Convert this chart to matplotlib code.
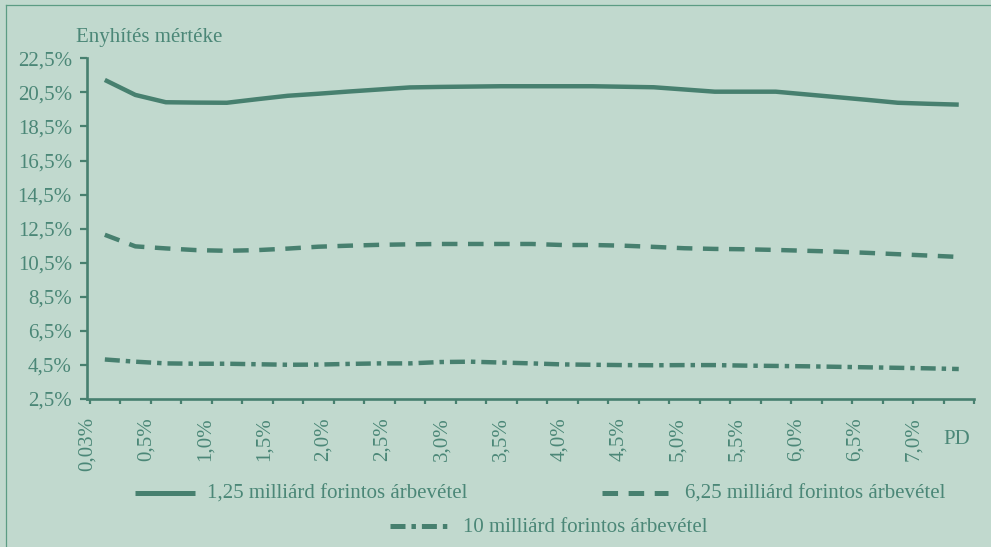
import numpy as np
import matplotlib
matplotlib.use("Agg")
import matplotlib.pyplot as plt
from matplotlib.lines import Line2D

# PD axis labels (shown every second category)
pd_labels = ["0,03%", "0,5%", "1,0%", "1,5%", "2,0%", "2,5%", "3,0%", "3,5%",
             "4,0%", "4,5%", "5,0%", "5,5%", "6,0%", "6,5%", "7,0%"]

# Relief level (%) for each PD category, by annual revenue
rev_125 = [21.23, 20.35, 19.92, 19.90, 19.89, 20.10, 20.30, 20.42, 20.55, 20.67,
           20.79, 20.82, 20.84, 20.86, 20.86, 20.86, 20.86, 20.83, 20.80, 20.67,
           20.54, 20.54, 20.54, 20.38, 20.22, 20.06, 19.89, 19.83, 19.78]
rev_625 = [12.14, 11.46, 11.34, 11.24, 11.20, 11.24, 11.33, 11.44, 11.50, 11.55,
           11.58, 11.60, 11.60, 11.60, 11.60, 11.54, 11.54, 11.50, 11.43, 11.35,
           11.31, 11.29, 11.25, 11.20, 11.15, 11.08, 11.00, 10.92, 10.84]
rev_10 = [4.82, 4.69, 4.59, 4.57, 4.57, 4.54, 4.51, 4.52, 4.56, 4.59,
          4.59, 4.67, 4.69, 4.64, 4.59, 4.53, 4.51, 4.49, 4.48, 4.49,
          4.49, 4.46, 4.44, 4.42, 4.39, 4.36, 4.33, 4.30, 4.26]

series_names = ["1,25 milliárd forintos árbevétel",
                "6,25 milliárd forintos árbevétel",
                "10 milliárd forintos árbevétel"]

y_ticks = [2.5, 4.5, 6.5, 8.5, 10.5, 12.5, 14.5, 16.5, 18.5, 20.5, 22.5]

BG = "#c1d9ce"
LINE = "#47806f"
TEXT = "#4b8777"
FRAME = "#5c9c84"

plt.rcParams["font.family"] = ["Liberation Serif", "DejaVu Serif"]
plt.rcParams["lines.scale_dashes"] = False
FS = 15

W, H = 991, 547
fig = plt.figure(figsize=(W / 100, H / 100), dpi=100, facecolor=BG)


def fx(px):
    return px / W


def fy(py):
    return 1 - py / H


ax = fig.add_axes([fx(87.3), fy(399), fx(974) - fx(87.3), fy(58.3) - fy(399)])
ax.set_facecolor(BG)

n = len(rev_125)
x = np.arange(n)
styles = [
    dict(linestyle="-"),
    dict(linestyle=(0, (11.2, 7.6))),
    dict(linestyle=(0, (10.8, 4.3, 3.2, 4.3))),
]
for vals, st in zip([rev_125, rev_625, rev_10], styles):
    ax.plot(x, vals, color=LINE, lw=3.2, solid_capstyle="butt",
            dash_capstyle="butt", **st)

ax.set_xlim(-0.5, n - 0.5)
ax.set_ylim(y_ticks[0], y_ticks[-1])

for s in ["top", "right"]:
    ax.spines[s].set_visible(False)
for s in ["left", "bottom"]:
    ax.spines[s].set_color(LINE)
    ax.spines[s].set_linewidth(1.9)

ax.set_yticks(y_ticks)
ax.set_yticklabels([f"{v:.1f}%".replace(".", ",") for v in y_ticks])
ax.tick_params(axis="y", direction="out", length=4.8, width=1.6, color=LINE,
               labelcolor=TEXT, labelsize=FS, pad=6.3)

# category boundaries carry the tick marks; labels sit on minor ticks
ax.set_xticks(np.arange(-0.5, n))
ax.set_xticklabels([])
ax.tick_params(axis="x", which="major", direction="out", length=3.6,
               width=1.6, color=LINE)
label_pos = np.linspace(-0.575, 26.53, len(pd_labels))
ax.set_xticks(label_pos, minor=True)
ax.set_xticklabels(pd_labels, minor=True, rotation=90, va="top", ha="center")
ax.tick_params(axis="x", which="minor", length=0, pad=13.2,
               labelcolor=TEXT, labelsize=FS)

fig.text(fx(76), fy(41.7), "Enyhítés mértéke", color=TEXT, fontsize=FS,
         ha="left", va="baseline")
fig.text(fx(943), fy(444), "PD", color=TEXT, fontsize=FS,
         ha="left", va="baseline")

# legend
legend_items = [
    (135, 195, 492.7, 207, 498.5),
    (601.7, 668.3, 492.7, 685, 498.5),
    (390, 446.7, 526, 462.7, 532.5),
]
for (x0, x1, ly, tx, tb), st, name in zip(legend_items, styles, series_names):
    fig.add_artist(Line2D([fx(x0), fx(x1)], [fy(ly), fy(ly)],
                          transform=fig.transFigure, color=LINE, lw=3.6,
                          solid_capstyle="butt", dash_capstyle="butt", **st))
    fig.text(fx(tx), fy(tb), name, color=TEXT, fontsize=FS,
             ha="left", va="baseline")

# outer frame
fig.add_artist(Line2D([fx(5.5), fx(5.5)], [fy(4.5), fy(H + 5)],
                      transform=fig.transFigure, color=FRAME, lw=0.9))
fig.add_artist(Line2D([fx(5.5), fx(W + 5)], [fy(4.5), fy(4.5)],
                      transform=fig.transFigure, color=FRAME, lw=0.9))

fig.savefig("out.png", dpi=100, facecolor=BG)
